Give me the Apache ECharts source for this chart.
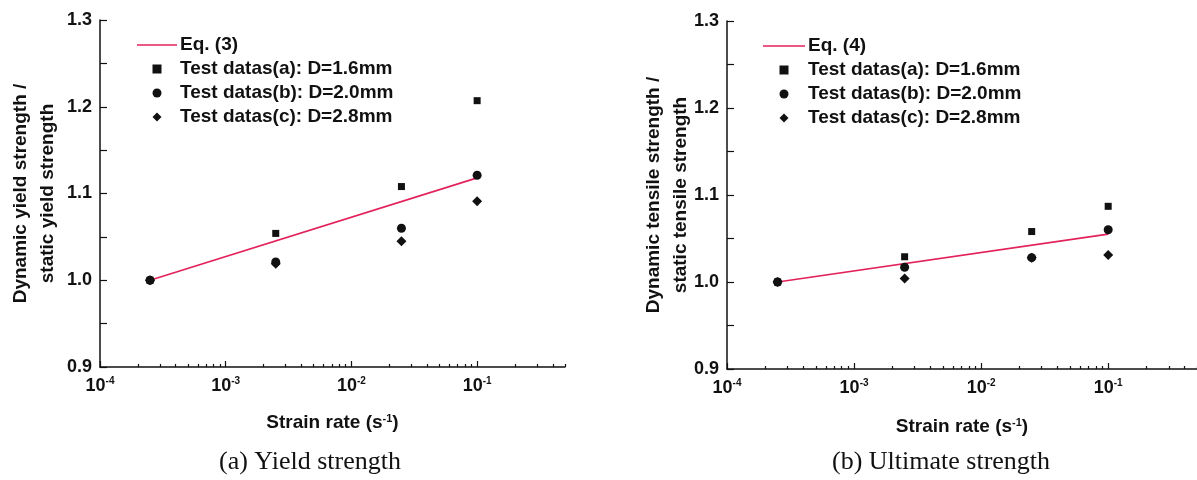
<!DOCTYPE html>
<html>
<head>
    <meta charset="utf-8">
    <title>Strength ratio vs strain rate</title>
    <script src="https://cdn.jsdelivr.net/npm/echarts@6/dist/echarts.min.js"></script>
    <style>
        html, body { margin: 0; padding: 0; background: #fff; }
    </style>
</head>
<body>
    <div id="myChart" style="width: 1197px;height:480px;"></div>
    <script>
        // strain rates of the tests (s^-1)
        const rates = [2.5e-4, 2.5e-3, 2.5e-2, 1e-1];

        // (a) yield strength ratio
        const yieldA = [1.0, 1.054, 1.108, 1.207];
        const yieldB = [1.0, 1.021, 1.060, 1.121];
        const yieldC = [1.0, 1.019, 1.045, 1.091];
        const eqRates = [2.5e-4, 1e-1];
        const yieldEq = [1.0, 1.118];

        // (b) ultimate (tensile) strength ratio
        const tensileA = [1.0, 1.029, 1.058, 1.087];
        const tensileB = [1.0, 1.017, 1.028, 1.060];
        const tensileC = [1.0, 1.004, 1.028, 1.031];
        const tensileEq = [1.0, 1.055];

        const legendNames = ['Test datas(a): D=1.6mm', 'Test datas(b): D=2.0mm', 'Test datas(c): D=2.8mm'];
        const xMajor = [1e-4, 1e-3, 1e-2, 1e-1];
        const yTicks = [0.9, 1.0, 1.1, 1.2, 1.3];

        // minor ticks 2..9 of every decade, up to 0.5
        const xMinor = [];
        xMajor.forEach(d => {
            for (let k = 2; k <= 9; k++) {
                if (d * k <= 0.5 + 1e-9) xMinor.push(d * k);
            }
        });

        const pair = (xs, ys) => xs.map((x, i) => [x, ys[i]]);
        const sans = "'Liberation Sans', Arial, sans-serif";
        const ink = '#111';
        const lineColor = '#e3215a';

        // legend icons (kept in aspect inside the item box)
        const icons = {
            line: 'path://M0,0L40,0L40,1.6L0,1.6Z',
            square: 'path://M0,0L1,0L1,1L0,1Z',
            circle: 'circle',
            diamond: 'path://M0.5,0L1,0.5L0.5,1L0,0.5Z'
        };

        var myChart = echarts.init(document.getElementById('myChart'));

        function mainX(gridIndex, gap) {
            return {
                type: 'log', logBase: 10, gridIndex: gridIndex, position: 'bottom',
                min: 1e-4, max: 0.5,
                name: 'Strain rate (s{sup|-1})',
                nameLocation: 'middle', nameGap: gap,
                nameTextStyle: {
                    fontFamily: sans, fontWeight: 'bold', fontSize: 19, color: ink,
                    rich: { sup: { fontSize: 11, fontWeight: 'bold', fontFamily: sans, color: ink, verticalAlign: 'bottom', padding: [0, 0, 9, 0] } }
                },
                axisLine: { lineStyle: { color: ink, width: 1.5 } },
                axisTick: { inside: true, length: 6, customValues: xMajor, lineStyle: { color: ink, width: 1.2 } },
                axisLabel: {
                    customValues: xMajor,
                    margin: 9,
                    formatter: v => '{b|10}{sup|' + Math.round(Math.log10(v)) + '}',
                    rich: {
                        b: { fontSize: 18, fontWeight: 'bold', fontFamily: sans, color: ink },
                        sup: { fontSize: 10, fontWeight: 'bold', fontFamily: sans, color: ink, verticalAlign: 'bottom', padding: [0, 0, 10, 0] }
                    }
                },
                splitLine: { show: false }
            };
        }

        function minorX(gridIndex) {
            return {
                type: 'log', logBase: 10, gridIndex: gridIndex, position: 'bottom', offset: 0,
                min: 1e-4, max: 0.5,
                axisLine: { show: false },
                axisTick: { inside: true, length: 3, customValues: xMinor, lineStyle: { color: ink, width: 1.2 } },
                axisLabel: { show: false },
                splitLine: { show: false }
            };
        }

        function mainY(gridIndex, name, gap) {
            return {
                type: 'value', gridIndex: gridIndex,
                min: 0.9, max: 1.3, interval: 0.1,
                name: name, nameLocation: 'middle', nameGap: gap,
                nameMoveOverlap: false,
                nameTextStyle: { fontFamily: sans, fontWeight: 'bold', fontSize: 19, color: ink, lineHeight: 27 },
                axisLine: { show: true, lineStyle: { color: ink, width: 1.5 } },
                axisTick: { inside: true, length: 7, customValues: yTicks, lineStyle: { color: ink, width: 1.2 } },
                minorTick: { show: true, splitNumber: 2, length: 7, lineStyle: { color: ink, width: 1.2 } },
                axisLabel: {
                    margin: 8, fontFamily: sans, fontWeight: 'bold', fontSize: 18, color: ink,
                    formatter: v => v.toFixed(1)
                },
                splitLine: { show: false }
            };
        }

        function panelSeries(idx, eqName, eqY, a, b, c) {
            return [{
                name: eqName, type: 'line', xAxisIndex: idx, yAxisIndex: idx,
                data: pair(eqRates, eqY), symbol: 'none',
                lineStyle: { color: lineColor, width: 1.6 }, itemStyle: { color: lineColor }, z: 1
            }, {
                name: legendNames[0], type: 'scatter', xAxisIndex: idx, yAxisIndex: idx,
                data: pair(rates, a), symbol: 'rect', symbolSize: 7, itemStyle: { color: ink, opacity: 1 }
            }, {
                name: legendNames[1], type: 'scatter', xAxisIndex: idx, yAxisIndex: idx,
                data: pair(rates, b), symbol: 'circle', symbolSize: 9, itemStyle: { color: ink, opacity: 1 }
            }, {
                name: legendNames[2], type: 'scatter', xAxisIndex: idx, yAxisIndex: idx,
                data: pair(rates, c), symbol: 'diamond', symbolSize: 10, itemStyle: { color: ink, opacity: 1 }
            }];
        }

        function legendAt(left, top, eqName, width) {
            return {
                data: [
                    { name: eqName, icon: icons.line },
                    { name: legendNames[0], icon: icons.square },
                    { name: legendNames[1], icon: icons.circle },
                    { name: legendNames[2], icon: icons.diamond }
                ],
                orient: 'vertical', left: left, top: top,
                itemWidth: width, itemHeight: 9, itemGap: 4, padding: 0,
                symbolKeepAspect: true,
                selectedMode: false,
                textStyle: { fontFamily: sans, fontWeight: 'bold', fontSize: 19, color: ink, lineHeight: 20, padding: [0, 0, 0, -2] }
            };
        }

        var option = {
            backgroundColor: '#fff',
            animation: false,
            grid: [
                { left: 100, top: 20, width: 465, height: 347 },
                { left: 727, top: 21, width: 472, height: 348 }
            ],
            xAxis: [mainX(0, 46), mainX(1, 48), minorX(0), minorX(1)],
            yAxis: [
                mainY(0, 'Dynamic yield strength /\nstatic yield strength', 39),
                mainY(1, 'Dynamic tensile strength /\nstatic tensile strength', 33)
            ],
            legend: [
                legendAt(137, 35, 'Eq. (3)', 40),
                legendAt(763, 36, 'Eq. (4)', 42)
            ],
            title: [
                { text: '(a) Yield strength', left: 219, top: 449, padding: 0,
                  textStyle: { fontFamily: "'Liberation Serif', 'Times New Roman', serif", fontWeight: 'normal', fontSize: 26, color: ink } },
                { text: '(b) Ultimate strength', left: 832, top: 449, padding: 0,
                  textStyle: { fontFamily: "'Liberation Serif', 'Times New Roman', serif", fontWeight: 'normal', fontSize: 26, color: ink } }
            ],
            series: panelSeries(0, 'Eq. (3)', yieldEq, yieldA, yieldB, yieldC)
                .concat(panelSeries(1, 'Eq. (4)', tensileEq, tensileA, tensileB, tensileC))
        };
        myChart.setOption(option);
    </script>
</body>
</html>
